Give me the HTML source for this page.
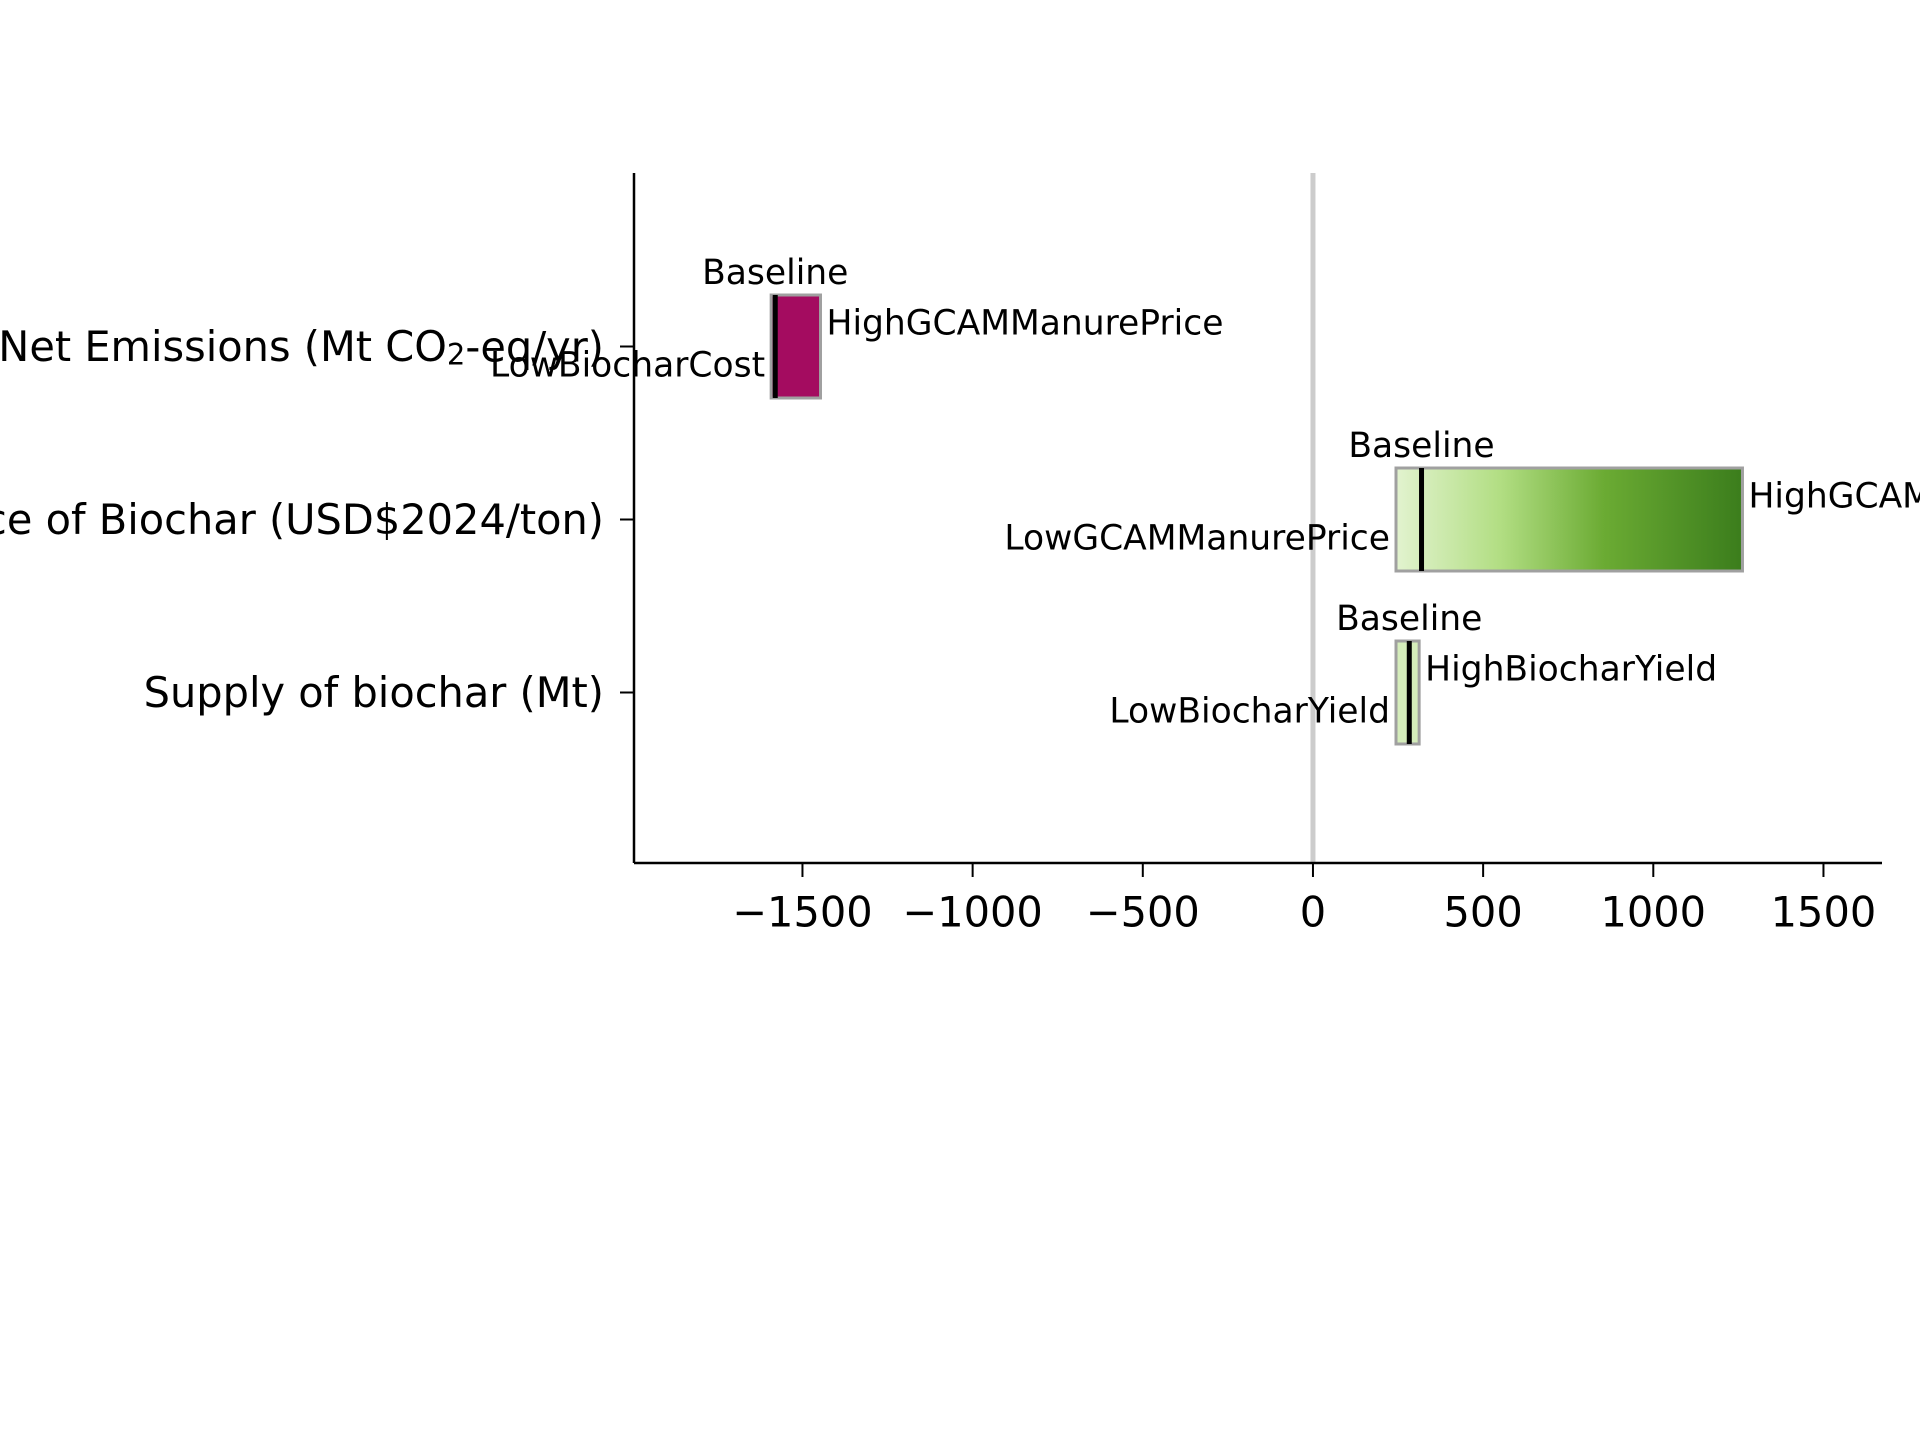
<!DOCTYPE html>
<html><head><meta charset="utf-8"><style>
html,body{margin:0;padding:0;background:#fff;}
svg{display:block;font-family:"DejaVu Sans","Liberation Sans",sans-serif;}
</style></head><body>
<svg id="chart" width="1920" height="1440" viewBox="0 0 1920 1440" xmlns="http://www.w3.org/2000/svg">
<defs>
<linearGradient id="greenGrad" x1="0" x2="1" y1="0" y2="0">
<stop offset="0" stop-color="#e2f3cf"/>
<stop offset="0.3" stop-color="#b2de83"/>
<stop offset="0.6" stop-color="#6bab33"/>
<stop offset="1" stop-color="#3b7d1c"/>
</linearGradient>
</defs>
<g id="plot"></g>
</svg>
<script>
const categories = ["Net Emissions (Mt CO2-eq/yr)", "Price of Biochar (USD$2024/ton)", "Supply of biochar (Mt)"];
const lowValues = [-1592, 244, 244];
const highValues = [-1447, 1262, 312];
const baselineValues = [-1580, 319, 283];
const lowLabels = ["LowBiocharCost", "LowGCAMManurePrice", "LowBiocharYield"];
const highLabels = ["HighGCAMManurePrice", "HighGCAMManurePrice", "HighBiocharYield"];
const xTicks = [-1500, -1000, -500, 0, 500, 1000, 1500];
const xTickLabels = ["\u22121500", "\u22121000", "\u2212500", "0", "500", "1000", "1500"];

const NS = "http://www.w3.org/2000/svg";
const plotG = document.getElementById("plot");
const plotLeft = 634, plotRight = 1882, plotTop = 173, plotBottom = 863;
const xMin = -1995, xMax = 1672;
const xs = v => plotLeft + (v - xMin) / (xMax - xMin) * (plotRight - plotLeft);
const band = 173;
const ys = i => 346.5 + i * band;
const barH = 103;
const labelFs = 34.5, axisFs = 41.5;

function mk(tag, attrs) {
  const e = document.createElementNS(NS, tag);
  for (const k in attrs) e.setAttribute(k, attrs[k]);
  plotG.appendChild(e);
  return e;
}

const zl = mk("line", {x1: xs(0), x2: xs(0), y1: plotTop, y2: plotBottom, stroke: "#cccccc", "stroke-width": 5});



const fills = ["#a40c60", "url(#greenGrad)", "#d5edbb"];

categories.forEach((c, i) => {
  const cy = ys(i);
  const x0 = xs(Math.min(lowValues[i], highValues[i]));
  const x1 = xs(Math.max(lowValues[i], highValues[i]));
  const bar = mk("rect", {x: x0, y: cy - barH / 2, width: x1 - x0, height: barH, fill: fills[i], stroke: "#a0a0a0", "stroke-width": 3});
  
  
  const bl = mk("line", {x1: xs(baselineValues[i]), x2: xs(baselineValues[i]), y1: cy - barH / 2, y2: cy + barH / 2, stroke: "#000", "stroke-width": 5});
  
  
  const bt = mk("text", {x: xs(baselineValues[i]), y: cy - barH / 2 - 22, "font-size": labelFs, "text-anchor": "middle", "dominant-baseline": "central"});
  bt.textContent = "Baseline";
  
  
  const ht = mk("text", {x: x1 + 6, y: cy - 23, "font-size": labelFs, "dominant-baseline": "central"});
  ht.textContent = highLabels[i];
  
  
  const lt = mk("text", {x: x0 - 6, y: cy + 19, "font-size": labelFs, "text-anchor": "end", "dominant-baseline": "central"});
  lt.textContent = lowLabels[i];
  
  
  const tk = mk("line", {x1: plotLeft - 14, x2: plotLeft, y1: cy, y2: cy, stroke: "#000", "stroke-width": 2});
  
  
  const yl = mk("text", {x: plotLeft - 30, y: cy, "font-size": axisFs, "text-anchor": "end", "dominant-baseline": "central"});
  
  
  if (i === 0) {
    yl.innerHTML = 'Net Emissions (Mt CO<tspan font-size="29" dy="8">2</tspan><tspan dy="-8">-eq/yr)</tspan>';
  } else {
    yl.textContent = c;
  }
});

const ya = mk("line", {x1: plotLeft, x2: plotLeft, y1: plotTop, y2: plotBottom, stroke: "#000", "stroke-width": 2.5});


const xa = mk("line", {x1: plotLeft, x2: plotRight, y1: plotBottom, y2: plotBottom, stroke: "#000", "stroke-width": 2.5});



xTicks.forEach((t, k) => {
  const tl = mk("line", {x1: xs(t), x2: xs(t), y1: plotBottom, y2: plotBottom + 14, stroke: "#000", "stroke-width": 2});
  
  
  const tt = mk("text", {x: xs(t), y: 912, "font-size": axisFs, "text-anchor": "middle", "dominant-baseline": "central"});
  tt.textContent = xTickLabels[k];
  
  
});
</script>
</body></html>
